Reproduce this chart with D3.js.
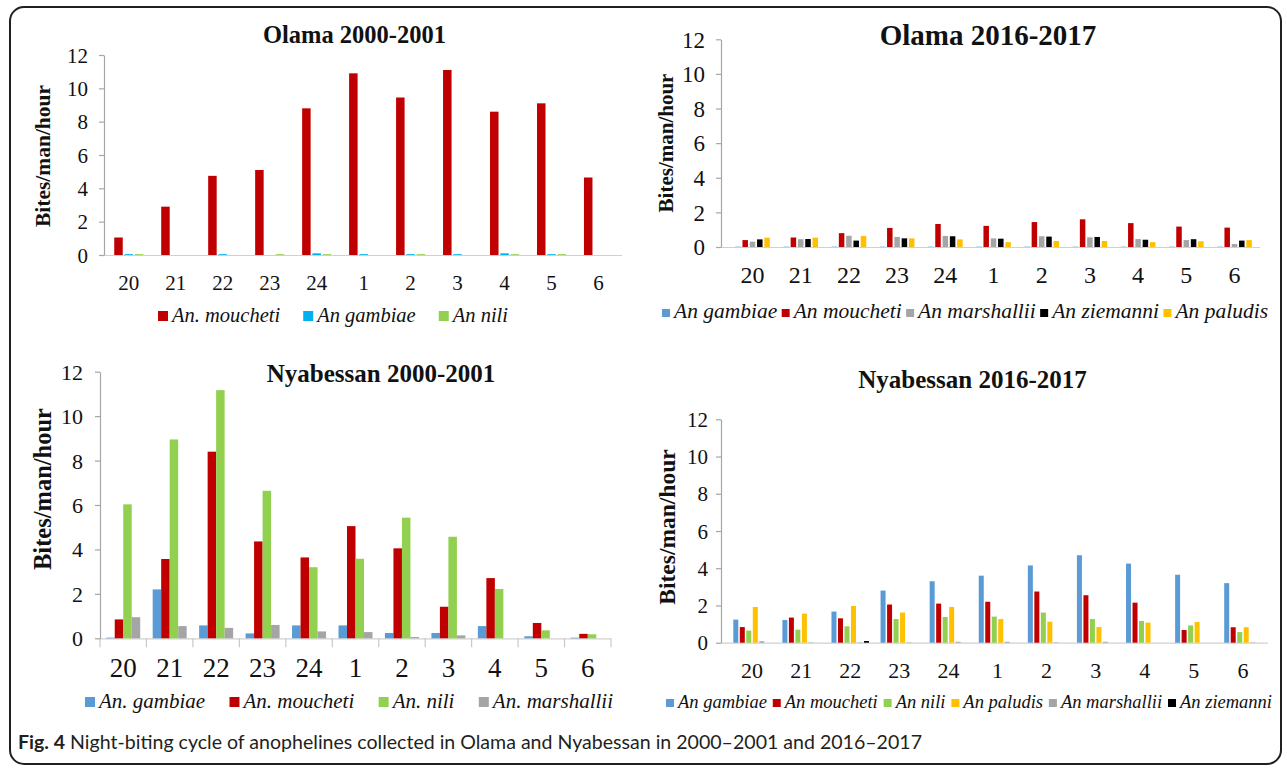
<!DOCTYPE html>
<html><head><meta charset="utf-8">
<script src="https://cdn.jsdelivr.net/npm/d3@7"></script>
<style>
html,body{margin:0;padding:0;background:#fff;}
svg{display:block;}
</style></head><body>
<svg id="fig" width="1287" height="770"></svg>
<script>
// ---------- DATA ----------
const hours = ["20","21","22","23","24","1","2","3","4","5","6"];
const yTicks = [0, 2, 4, 6, 8, 10, 12];

// Olama 2000-2001
const olama2000Moucheti = [1.05, 2.9, 4.75, 5.1, 8.8, 10.9, 9.45, 11.1, 8.6, 9.1, 4.65];
const olama2000Gambiae  = [0.05, 0, 0.05, 0, 0.1, 0.05, 0.05, 0.05, 0.1, 0.05, 0];
const olama2000Nili     = [0.05, 0, 0, 0.05, 0.05, 0, 0.05, 0, 0.05, 0.05, 0];

// Olama 2016-2017
const olama2016Gambiae    = [0.02, 0.02, 0.02, 0.02, 0.02, 0.02, 0.02, 0.02, 0.02, 0.02, 0.02];
const olama2016Moucheti   = [0.4, 0.55, 0.8, 1.1, 1.33, 1.22, 1.44, 1.6, 1.38, 1.18, 1.12];
const olama2016Marshallii = [0.31, 0.45, 0.65, 0.58, 0.64, 0.5, 0.62, 0.56, 0.46, 0.4, 0.17];
const olama2016Ziemanni   = [0.44, 0.46, 0.37, 0.5, 0.62, 0.48, 0.6, 0.58, 0.42, 0.45, 0.37];
const olama2016Paludis    = [0.54, 0.54, 0.64, 0.5, 0.44, 0.28, 0.35, 0.35, 0.28, 0.33, 0.4];

// Nyabessan 2000-2001
const nyab2000Gambiae    = [0.03, 2.2, 0.58, 0.22, 0.58, 0.58, 0.24, 0.24, 0.55, 0.09, 0.03];
const nyab2000Moucheti   = [0.85, 3.57, 8.4, 4.36, 3.64, 5.05, 4.05, 1.42, 2.71, 0.69, 0.2];
const nyab2000Nili       = [6.03, 8.95, 11.17, 6.64, 3.2, 3.58, 5.43, 4.57, 2.22, 0.36, 0.18];
const nyab2000Marshallii = [0.95, 0.55, 0.47, 0.6, 0.31, 0.28, 0.06, 0.13, 0, 0, 0];

// Nyabessan 2016-2017
const nyab2016Gambiae    = [1.24, 1.22, 1.67, 2.8, 3.3, 3.6, 4.15, 4.7, 4.25, 3.65, 3.2];
const nyab2016Moucheti   = [0.84, 1.35, 1.31, 2.05, 2.1, 2.2, 2.75, 2.55, 2.15, 0.68, 0.83];
const nyab2016Nili       = [0.65, 0.7, 0.88, 1.27, 1.38, 1.4, 1.62, 1.27, 1.17, 0.93, 0.57];
const nyab2016Paludis    = [1.92, 1.56, 1.97, 1.62, 1.92, 1.27, 1.13, 0.84, 1.08, 1.11, 0.83];
const nyab2016Marshallii = [0.08, 0.02, 0.02, 0.02, 0.05, 0.05, 0.02, 0.05, 0, 0, 0.02];
const nyab2016Ziemanni   = [0, 0, 0.09, 0, 0, 0, 0, 0, 0, 0, 0];

const titles = ["Olama 2000-2001", "Olama 2016-2017", "Nyabessan 2000-2001", "Nyabessan 2016-2017"];
const yLabel = "Bites/man/hour";
const captionBold = "Fig. 4";
const captionText = " Night-biting cycle of anophelines collected in Olama and Nyabessan in 2000\u20132001 and 2016\u20132017";

// ---------- STYLE ----------
const C = {
  moucheti: "#C00000", gambiae: "#5B9BD5", gambiaeCyan: "#00B0F0",
  nili: "#92D050", marshallii: "#A5A5A5", ziemanni: "#000000", paludis: "#FFC000"
};
const SERIF = "'Liberation Serif','Times New Roman',Times,serif";

const panels = [
  { title: titles[0],
    series: [
      {name: "An. moucheti", color: C.moucheti, values: olama2000Moucheti},
      {name: "An gambiae", color: C.gambiaeCyan, values: olama2000Gambiae},
      {name: "An nili", color: C.nili, values: olama2000Nili}],
    x0: 105.3, x1: 622, y0: 255, y1: 55, axisX: 104, axisEnd: 622,
    barW: 8.5, barStep: 10.3, tickFont: 21, tickRight: 88, xFont: 21, xBase: 290,
    tt: {x: 354.5, y: 43, size: 24.5}, yl: {x: 50, y: 156, size: 21.5},
    lg: {y: 322, size: 20.5, sq: 10, gap: 4, start: 158, end: 508}, xTicks: false },
  { title: titles[1],
    series: [
      {name: "An gambiae", color: C.gambiae, values: olama2016Gambiae},
      {name: "An moucheti", color: C.moucheti, values: olama2016Moucheti},
      {name: "An marshallii", color: C.marshallii, values: olama2016Marshallii},
      {name: "An ziemanni", color: C.ziemanni, values: olama2016Ziemanni},
      {name: "An paludis", color: C.paludis, values: olama2016Paludis}],
    x0: 728.4, x1: 1258.6, y0: 247, y1: 39.3, axisX: 721, axisEnd: 1260,
    barW: 5.5, barStep: 7.3, tickFont: 23, tickRight: 705, xFont: 24, xBase: 283,
    tt: {x: 988, y: 45, size: 29}, yl: {x: 673, y: 143, size: 21},
    lg: {y: 318, size: 21.5, sq: 8, gap: 4, start: 662, end: 1268}, xTicks: false },
  { title: titles[2],
    series: [
      {name: "An. gambiae", color: C.gambiae, values: nyab2000Gambiae},
      {name: "An. moucheti", color: C.moucheti, values: nyab2000Moucheti},
      {name: "An. nili", color: C.nili, values: nyab2000Nili},
      {name: "An. marshallii", color: C.marshallii, values: nyab2000Marshallii}],
    x0: 100, x1: 611, y0: 638.3, y1: 371.7, axisX: 100, axisEnd: 611,
    barW: 8.5, barStep: 8.5, tickFont: 22, tickRight: 83, xFont: 27, xBase: 677,
    tt: {x: 381, y: 382, size: 25}, yl: {x: 51, y: 489, size: 24.5},
    lg: {y: 708, size: 21, sq: 10, gap: 4, start: 85, end: 613}, xTicks: true },
  { title: titles[3],
    series: [
      {name: "An gambiae", color: C.gambiae, values: nyab2016Gambiae},
      {name: "An moucheti", color: C.moucheti, values: nyab2016Moucheti},
      {name: "An nili", color: C.nili, values: nyab2016Nili},
      {name: "An paludis", color: C.paludis, values: nyab2016Paludis},
      {name: "An marshallii", color: C.marshallii, values: nyab2016Marshallii},
      {name: "An ziemanni", color: C.ziemanni, values: nyab2016Ziemanni}],
    x0: 727.5, x1: 1267.5, y0: 642.7, y1: 419.3, axisX: 721, axisEnd: 1268,
    barW: 5, barStep: 6.5, tickFont: 21, tickRight: 708, xFont: 22, xBase: 678,
    tt: {x: 972.5, y: 388, size: 25}, yl: {x: 675, y: 527, size: 23.5},
    lg: {y: 708, size: 18.5, sq: 8, gap: 4, start: 666, end: 1272}, xTicks: false }
];

const svg = d3.select("#fig");
svg.append("rect").attr("width", 1287).attr("height", 770).attr("fill", "#fff");

// outer frame
svg.append("rect").attr("x", 10).attr("y", 7).attr("width", 1271).attr("height", 757)
  .attr("rx", 14).attr("fill", "none").attr("stroke", "#231f20").attr("stroke-width", 2);

function drawPanel(p) {
  const g = svg.append("g");
  const x = d3.scaleBand().domain(hours).range([p.x0, p.x1]).padding(0);
  const y = d3.scaleLinear().domain([0, 12]).range([p.y0, p.y1]);
  const n = p.series.length;

  // baseline
  g.append("line").attr("x1", p.axisX).attr("x2", p.axisEnd)
    .attr("y1", p.y0 + 0.5).attr("y2", p.y0 + 0.5)
    .attr("stroke", "#d0d0d0").attr("stroke-width", 1.2);
  if (p.xTicks) {
    const bounds = hours.map(h => x(h)).concat([p.x1]);
    g.selectAll(null).data(bounds).join("line")
      .attr("x1", d => d).attr("x2", d => d)
      .attr("y1", p.y0).attr("y2", p.y0 + 9)
      .attr("stroke", "#c8c8c8").attr("stroke-width", 1.2);
  }

  // bars
  p.series.forEach((s, k) => {
    const off = (k - (n - 1) / 2) * p.barStep - p.barW / 2;
    g.append("g").selectAll("rect").data(s.values).join("rect")
      .attr("x", (d, i) => x(hours[i]) + x.bandwidth() / 2 + off)
      .attr("y", d => y(d))
      .attr("width", p.barW)
      .attr("height", d => Math.max(0, y(0) - y(d)))
      .attr("fill", s.color);
  });

  // y axis
  const ya = d3.axisLeft(y).tickValues(yTicks).tickSize(5).tickSizeOuter(0)
    .tickPadding(p.axisX - p.tickRight - 5);
  const gy = g.append("g").attr("transform", `translate(${p.axisX},0)`).call(ya);
  gy.attr("font-family", SERIF).attr("font-size", p.tickFont);
  gy.select(".domain").attr("stroke", "#a6a6a6").attr("stroke-width", 1.2);
  gy.selectAll(".tick line").attr("stroke", "#a6a6a6").attr("stroke-width", 1.2);
  gy.selectAll(".tick text").attr("fill", "#111").attr("dy", "0.34em");

  // x axis labels
  const xa = d3.axisBottom(x).tickSize(0).tickPadding(p.xBase - p.y0 - 0.71 * p.xFont);
  const gx = g.append("g").attr("transform", `translate(0,${p.y0})`).call(xa);
  gx.attr("font-family", SERIF).attr("font-size", p.xFont);
  gx.select(".domain").remove();
  gx.selectAll(".tick text").attr("fill", "#111");

  // title
  g.append("text").attr("x", p.tt.x).attr("y", p.tt.y)
    .attr("text-anchor", "middle").attr("font-family", SERIF)
    .attr("font-weight", "bold").attr("font-size", p.tt.size).attr("fill", "#111")
    .text(p.title);

  // y label
  g.append("text").attr("transform", `translate(${p.yl.x},${p.yl.y}) rotate(-90)`)
    .attr("text-anchor", "middle").attr("font-family", SERIF)
    .attr("font-weight", "bold").attr("font-size", p.yl.size).attr("fill", "#111")
    .text(yLabel);

  // legend
  const lg = g.append("g").attr("font-family", SERIF).attr("font-style", "italic")
    .attr("font-size", p.lg.size).attr("fill", "#111");
  const texts = p.series.map(s => lg.append("text").attr("y", p.lg.y).text(s.name));
  const widths = texts.map(t => t.node().getComputedTextLength());
  const used = widths.reduce((a, b) => a + b, 0) + n * (p.lg.sq + p.lg.gap);
  const spacing = (p.lg.end - p.lg.start - used) / (n - 1);
  let cx = p.lg.start;
  p.series.forEach((s, k) => {
    lg.append("rect").attr("x", cx).attr("y", p.lg.y - p.lg.sq - 1)
      .attr("width", p.lg.sq).attr("height", p.lg.sq).attr("fill", s.color);
    cx += p.lg.sq + p.lg.gap;
    texts[k].attr("x", cx);
    cx += widths[k] + spacing;
  });
}

panels.forEach(drawPanel);

// caption
const cap = svg.append("text").attr("x", 18).attr("y", 749)
  .attr("font-family", "Lato,'Open Sans','Liberation Sans',sans-serif")
  .attr("font-size", 19).attr("fill", "#231f20")
  .attr("textLength", 904).attr("lengthAdjust", "spacingAndGlyphs");
cap.append("tspan").attr("font-weight", "bold").text(captionBold);
cap.append("tspan").text(captionText);
</script>
</body></html>
